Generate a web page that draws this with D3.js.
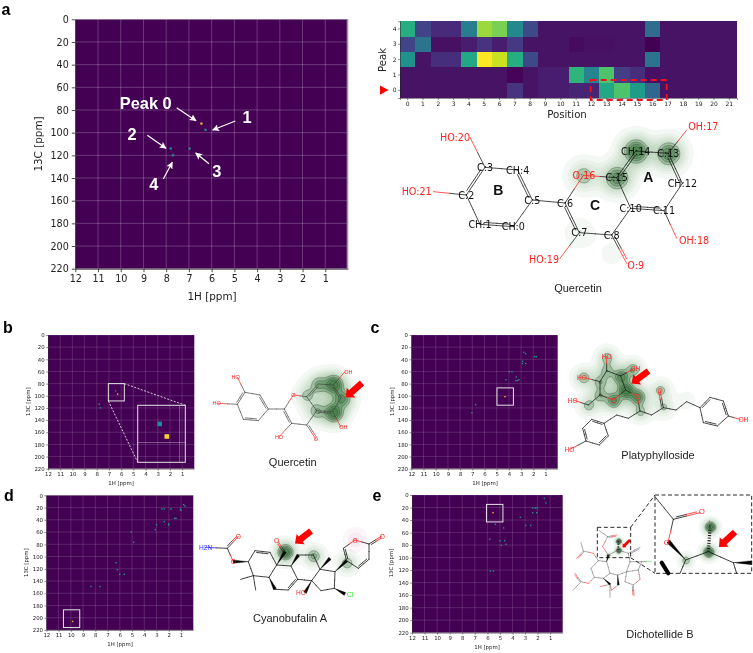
<!DOCTYPE html>
<html>
<head>
<meta charset="utf-8">
<script src="https://cdn.jsdelivr.net/npm/d3@7"></script>
<style>
html, body { margin: 0; padding: 0; background: #fff; }
svg { display: block; filter: blur(0.3px); }
</style>
</head>
<body>
<svg id="fig" width="753" height="653"></svg>
<script>
"use strict";

// Tick labels
var ppmTicks = [12, 11, 10, 9, 8, 7, 6, 5, 4, 3, 2, 1];
var carbonTicks = d3.range(0, 221, 20);

// Peaks: [1H ppm, 13C ppm, intensity]
var peaksA = [[6.45, 92, 1], [6.27, 97.5, 0.5], [7.8, 114, 0.5], [6.97, 114, 0.5], [7.7, 120, 0.5]];
var peaksB = [[6.45, 92, 0.5], [6.29, 97.4, 1], [7.8, 114, 0.5], [7.7, 120, 0.5]];
var peaksC = [[2.79, 28.5, 0.5], [2.63, 30.7, 0.5], [2.87, 43.3, 0.5], [2.63, 47, 0.5], [2.9, 47, 0.5],
    [1.89, 35.6, 0.5], [1.75, 35.6, 0.5], [3.97, 60.3, 0.5], [3.75, 60.3, 0.5], [3.39, 69, 0.5],
    [4.24, 73.5, 0.5], [3.42, 75, 0.5], [3.31, 75, 0.5], [3.18, 73.5, 0.5], [4.32, 101.5, 1],
    [6.73, 114.6, 0.5], [7.03, 127.8, 0.5]];
var peaksD = [[0.79, 15.3, 0.5], [0.68, 17.4, 0.5], [1.06, 22.9, 0.5], [0.98, 24.5, 0.5], [2.56, 22.3, 0.5],
    [2.37, 22.3, 0.5], [1.82, 22.3, 0.5], [1.52, 37.6, 0.5], [1.41, 37.6, 0.5], [2.37, 43, 0.5],
    [2.01, 46.8, 0.5], [2.01, 48.5, 0.5], [3, 48, 0.5], [3.1, 56, 0.5], [5.06, 60, 0.5], [4.87, 76.8, 0.5],
    [6.29, 110, 0.5], [6.2, 121.5, 0.5], [6.01, 129, 0.5], [5.63, 129, 0.5], [8.35, 149, 0.5],
    [7.62, 149, 0.5], [9.85, 206, 1]];
var peaksE = [[1.46, 5.3, 0.5], [1.33, 12.8, 0.5], [2.39, 20.8, 0.5], [2.18, 20.8, 0.5], [2.05, 20.8, 0.5],
    [2.39, 28.2, 0.5], [2.07, 28.2, 0.5], [5.55, 28.2, 1], [3.37, 35.7, 0.5], [5.36, 46.9, 0.5],
    [4.7, 52.7, 0.5], [2.95, 48.5, 0.5], [2.55, 48.5, 0.5], [5.81, 70.9, 0.5], [4.99, 73, 0.5],
    [4.62, 73, 0.5], [4.89, 80.4, 0.5], [4.51, 78.9, 0.5], [5.76, 121.5, 0.5], [5.52, 121.5, 0.5]];

// Attention heatmap, peak by position
var positions = d3.range(0, 22);
var peakRows = [4, 3, 2, 1, 0];
var attention4 = [0.62, 0.2, 0.12, 0.12, 0.42, 0.85, 0.8, 0.47, 0.22, 0.05, 0.05, 0.05, 0.05, 0.05, 0.05, 0.05, 0.35, 0.05, 0.05, 0.05, 0.05, 0.05];
var attention3 = [0.2, 0.38, 0.04, 0.04, 0.08, 0.15, 0.08, 0.17, 0.05, 0.05, 0.05, 0.03, 0.04, 0.04, 0.05, 0.05, 0, 0.05, 0.05, 0.05, 0.05, 0.05];
var attention2 = [0.5, 0.05, 0.13, 0.13, 0.6, 1, 0.92, 0.62, 0.22, 0.05, 0.05, 0.05, 0.05, 0.05, 0.05, 0.05, 0.38, 0.05, 0.05, 0.05, 0.05, 0.05];
var attention1 = [0.05, 0.05, 0.05, 0.05, 0.05, 0.05, 0.05, 0.01, 0.05, 0.08, 0.08, 0.65, 0.45, 0.72, 0.18, 0.13, 0.04, 0.05, 0.05, 0.05, 0.05, 0.05];
var attention0 = [0.05, 0.05, 0.05, 0.05, 0.05, 0.05, 0.05, 0.15, 0.05, 0.08, 0.08, 0.1, 0.1, 0.6, 0.72, 0.55, 0.33, 0.05, 0.05, 0.05, 0.05, 0.05];

// Quercetin with atom numbers (bonds: 1 single, 2 double, 3 wedge, 4 hashed, 5 thick bar)
var quercetinBonds = [[0, 1, 2], [1, 2, 1], [2, 3, 2], [3, 4, 1], [4, 5, 2], [5, 0, 1], [5, 6, 1], [6, 7, 2], [7, 8, 1],
    [8, 9, 2], [8, 10, 1], [10, 11, 2], [11, 12, 1], [12, 13, 2], [13, 14, 1], [14, 15, 2], [15, 10, 1], [15, 16, 1],
    [16, 6, 1], [13, 17, 1], [11, 18, 1], [7, 19, 1], [3, 20, 1], [2, 21, 1]];
var RED = "#f22";
var molA = [[430, 320], [330, 313], [289, 225], [345, 142], [443, 150], [487, 240], [585, 249], [628, 338], [725, 345],
    [770, 430, RED], [782, 265], [882, 272], [937, 190], [895, 100], [797, 93], [740, 173], [640, 166, RED],
    [950, 30, RED], [920, 355, RED], [570, 415, RED], [300, 52, RED], [190, 215, RED]];
var molALabels = [["CH:0", 430, 320], ["CH:1", 330, 313], ["C:2", 289, 225], ["C:3", 345, 142], ["CH:4", 443, 150], ["C:5", 487, 240],
    ["C:6", 585, 249], ["C:7", 628, 338], ["C:8", 725, 345], ["O:9", 797, 435, RED], ["C:10", 782, 265], ["C:11", 882, 272],
    ["CH:12", 937, 190], ["C:13", 895, 100], ["CH:14", 797, 93], ["C:15", 740, 173], ["O:16", 642, 166, RED], ["OH:17", 1000, 18, RED],
    ["OH:18", 972, 360, RED], ["HO:19", 522, 418, RED], ["HO:20", 255, 52, RED], ["HO:21", 140, 215, RED]];
var molAHot = [[797, 93, 1], [895, 100, 0.85], [740, 173, 0.8], [640, 166, 0.42], [628, 338, 0.14], [725, 400, 0.08]];
var ringLetters = [["A", 835, 170], ["B", 385, 210], ["C", 675, 255]];

// Quercetin, no numbers
var molB = [[160, 182], [115, 178], [97, 133], [120, 97], [165, 105], [190, 147], [238, 147], [260, 190], [305, 195],
    [333, 238, RED], [335, 152], [383, 155], [408, 113], [385, 75], [340, 72], [305, 110], [265, 105, RED],
    [420, 35, RED], [407, 200, RED], [222, 230, RED], [97, 52, RED], [38, 130, RED]];
var molBLabels = [["O", 333, 238, RED], ["O", 265, 105, RED], ["OH", 430, 35, RED], ["OH", 415, 202, RED], ["HO", 222, 230, RED], ["HO", 92, 52, RED], ["HO", 35, 130, RED]];
var molBHot = [[385, 72, 1], [385, 157, 1], [410, 115, 0.7], [340, 72, 0.5], [335, 152, 0.45], [305, 105, 0.35]];

// Platyphylloside
var molC = [[140, 92], [182, 108], [197, 150], [160, 180, RED], [120, 165], [120, 125], [140, 50, RED], [218, 88, RED],
    [70, 112, RED], [85, 195], [40, 180, RED], [232, 170, RED], [240, 213], [205, 235], [170, 225], [132, 250], [95, 238],
    [68, 265], [78, 303], [118, 315], [145, 288], [30, 328, RED], [275, 225], [310, 203], [300, 150, RED], [348, 210],
    [380, 185], [420, 203], [450, 172], [490, 183], [505, 228], [472, 258], [430, 248], [540, 238, RED]];
var molCBonds = [[0, 1, 1], [1, 2, 1], [2, 3, 1], [3, 4, 1], [4, 5, 1], [5, 0, 1], [0, 6, 1], [1, 7, 1], [5, 8, 1], [4, 9, 1], [9, 10, 1],
    [2, 11, 1], [11, 12, 1], [12, 13, 1], [13, 14, 1], [14, 15, 1], [15, 16, 2], [16, 17, 1], [17, 18, 2], [18, 19, 1], [19, 20, 2],
    [20, 15, 1], [18, 21, 1], [12, 22, 1], [22, 23, 1], [23, 24, 2], [23, 25, 1], [25, 26, 1], [26, 27, 1], [27, 28, 2], [28, 29, 1],
    [29, 30, 2], [30, 31, 1], [31, 32, 2], [32, 27, 1], [30, 33, 1]];
var molCLabels = [["HO", 140, 50, RED], ["OH", 226, 86, RED], ["HO", 66, 112, RED], ["HO", 38, 180, RED], ["O", 160, 180, RED],
    ["O", 232, 170, RED], ["O", 300, 150, RED], ["HO", 28, 328, RED], ["OH", 550, 238, RED]];
var molCHot = [[197, 150, 1], [182, 110, 0.75], [232, 170, 0.75], [160, 180, 0.7], [120, 165, 0.42], [140, 92, 0.4], [120, 125, 0.42],
    [70, 112, 0.42], [140, 52, 0.38], [218, 88, 0.45], [85, 195, 0.38], [240, 213, 0.35], [300, 150, 0.36], [310, 200, 0.3], [380, 180, 0.1]];

// Cyanobufalin A
var BLUE = "#33f";
var GREEN = "#3e3";
var molD = [[30, 82, BLUE], [97, 85], [130, 50, RED], [115, 125, RED], [160, 125], [180, 92], [225, 97], [245, 135], [222, 172], [175, 167],
    [137, 178], [182, 210], [270, 95], [250, 66, RED], [288, 138], [308, 178], [280, 210], [240, 208], [310, 105], [355, 105], [375, 148],
    [350, 182], [420, 155], [418, 205], [378, 212], [405, 115], [330, 218, RED], [455, 122], [450, 222, GREEN], [445, 85], [480, 60, RED],
    [522, 72], [522, 118], [490, 145], [560, 48, RED]];
var molDBonds = [[0, 1, 1], [1, 2, 2], [1, 3, 1], [4, 3, 3], [4, 5, 1], [5, 6, 2], [6, 7, 1], [7, 8, 1], [8, 9, 1], [9, 4, 1], [9, 10, 1], [9, 11, 1],
    [7, 12, 3], [12, 13, 2], [7, 14, 1], [14, 15, 1], [15, 16, 2], [16, 17, 1], [8, 17, 3], [14, 18, 3], [18, 19, 1], [19, 20, 1], [20, 21, 1],
    [21, 15, 1], [20, 22, 1], [22, 23, 1], [23, 24, 1], [24, 21, 1], [20, 25, 3], [21, 26, 3], [22, 27, 3], [23, 28, 3], [27, 29, 2], [29, 30, 1],
    [30, 31, 1], [31, 32, 1], [32, 33, 2], [33, 27, 1], [31, 34, 2]];
var molDLabels = [["H2N", 32, 82, BLUE], ["O", 130, 50, RED], ["O", 115, 125, RED], ["O", 245, 60, RED], ["HO", 318, 218, RED], ["Cl", 465, 222, GREEN],
    ["O", 480, 60, RED], ["O", 562, 48, RED]];
var molDHot = [[270, 95, 1], [355, 107, 0.5], [455, 128, 0.42]];
var molDPink = [[480, 58, 0.22]];

// Dichotellide B, whole molecule and zoomed part
var molE = [[78, 235], [100, 212], [125, 215], [135, 250], [115, 265], [88, 262], [85, 190, RED], [55, 183], [48, 158], [35, 205, RED],
    [70, 280, RED], [48, 275], [30, 250, RED], [25, 300], [130, 195], [113, 170, RED], [128, 140], [155, 135, RED], [103, 122],
    [160, 180], [160, 152], [190, 190], [195, 215], [225, 172], [230, 215], [260, 215, GREEN], [220, 240], [225, 268, RED], [205, 285],
    [207, 318, RED], [180, 275], [185, 245], [158, 255], [160, 285], [140, 300, RED], [135, 283], [135, 322], [105, 290, RED]];
var molEBonds = [[0, 1, 1], [1, 2, 1], [2, 3, 1], [3, 4, 1], [4, 5, 1], [5, 0, 1], [1, 6, 1], [6, 7, 1], [7, 8, 1], [7, 9, 2], [5, 10, 1], [10, 11, 1],
    [11, 12, 2], [11, 13, 1], [2, 14, 3], [14, 15, 1], [15, 16, 1], [16, 17, 2], [16, 18, 1], [14, 19, 1], [19, 20, 4], [19, 21, 1], [21, 22, 1],
    [21, 23, 2], [22, 24, 1], [24, 25, 1], [24, 26, 1], [26, 27, 1], [27, 28, 1], [28, 29, 2], [28, 30, 1], [30, 31, 1], [31, 26, 1], [31, 32, 1],
    [32, 3, 1], [31, 22, 1], [32, 33, 3], [33, 34, 1], [34, 35, 1], [35, 36, 1], [35, 37, 1], [4, 35, 3]];
var molEHot = [[160, 180, 1], [160, 153, 1], [130, 195, 0.35]];
var insetAtoms = [[270, 20], [325, 88], [405, 68, RED], [310, 154, RED], [362, 210], [430, 185], [435, 115], [433, 92, "#d4d"], [505, 218],
    [515, 250], [560, 218], [345, 250], [290, 218], [310, 250]];
var insetBonds = [[0, 1, 1], [1, 2, 2], [1, 3, 1], [4, 3, 3], [4, 5, 1], [5, 6, 4], [6, 7, 1], [5, 8, 1], [8, 9, 1], [8, 10, 3], [4, 11, 1], [12, 13, 5]];
var insetLabels = [["O", 411, 65, RED], ["O", 305, 158, RED]];
var insetHot = [[430, 185, 1], [435, 110, 1], [362, 210, 0.42]];

var svg = d3.select("#fig");
var font = "'DejaVu Sans', sans-serif";
var sans = "'Liberation Sans', Arial, sans-serif";

function peakColor(v) {
    return v > 0.9 ? "#f7b733" : d3.interpolateViridis(v);
}

function addText(g, str, x, y, size, opts) {
    opts = opts || {};
    var t = g.append("text")
        .attr("x", x)
        .attr("y", y)
        .attr("font-family", opts.family || sans)
        .attr("font-size", size)
        .attr("font-weight", opts.weight || "normal")
        .attr("fill", opts.fill || "#222")
        .attr("text-anchor", opts.anchor || "middle")
        .attr("dominant-baseline", opts.baseline || "central")
        .text(str);
    if (opts.rotate) {
        t.attr("transform", "rotate(" + opts.rotate + " " + x + " " + y + ")");
    }
    return t;
}

// One 1H / 13C spectrum panel with its grid, axes and peaks
function spectrum(box, peaks, o) {
    var g = svg.append("g");
    var x = d3.scaleLinear().domain([12, 0]).range([box.x0, box.x1]);
    var y = d3.scaleLinear().domain([0, 220]).range([box.y0, box.y1]);

    g.append("rect")
        .attr("x", box.x0)
        .attr("y", box.y0)
        .attr("width", box.x1 - box.x0)
        .attr("height", box.y1 - box.y0)
        .attr("fill", "#440154");

    g.selectAll(".gx").data(ppmTicks).enter().append("line")
        .attr("x1", function(d) {return x(d);})
        .attr("x2", function(d) {return x(d);})
        .attr("y1", box.y0)
        .attr("y2", box.y1)
        .attr("stroke", "#fff")
        .attr("stroke-opacity", 0.28)
        .attr("stroke-width", o.grid);
    g.selectAll(".gy").data(carbonTicks).enter().append("line")
        .attr("x1", box.x0)
        .attr("x2", box.x1)
        .attr("y1", function(d) {return y(d);})
        .attr("y2", function(d) {return y(d);})
        .attr("stroke", "#fff")
        .attr("stroke-opacity", 0.28)
        .attr("stroke-width", o.grid);

    g.selectAll(".peak").data(peaks).enter().append("rect")
        .attr("x", function(d) {return x(d[0]) - o.peak / 2;})
        .attr("y", function(d) {return y(d[1]) - o.peak / 2;})
        .attr("width", o.peak)
        .attr("height", o.peak)
        .attr("fill", function(d) {return peakColor(d[2]);});

    var xAxis = d3.axisBottom(x).tickValues(ppmTicks).tickSize(o.tick).tickPadding(o.pad).tickSizeOuter(0);
    var yAxis = d3.axisLeft(y).tickValues(carbonTicks).tickSize(o.tick).tickPadding(o.pad).tickSizeOuter(0);
    [g.append("g").attr("transform", "translate(0," + box.y1 + ")").call(xAxis),
     g.append("g").attr("transform", "translate(" + box.x0 + ",0)").call(yAxis)].forEach(function(a) {
        a.attr("font-family", font).attr("font-size", o.font);
        a.selectAll("text").attr("fill", "#222");
        a.selectAll("line").attr("stroke", "#222").attr("stroke-width", o.grid);
        a.select(".domain").attr("stroke", "#222").attr("stroke-width", o.grid);
    });

    addText(g, "1H [ppm]", o.xl[0], o.xl[1], o.label, {family: font});
    addText(g, "13C [ppm]", o.yl[0], o.yl[1], o.label, {family: font, rotate: -90});
    return {g: g, x: x, y: y};
}

function selectBox(p, h0, h1, c0, c1) {
    p.g.append("rect")
        .attr("x", p.x(h0))
        .attr("y", p.y(c0))
        .attr("width", p.x(h1) - p.x(h0))
        .attr("height", p.y(c1) - p.y(c0))
        .attr("fill", "none")
        .attr("stroke", "#e4e4e4")
        .attr("stroke-width", 1);
}

// Similarity map: green gaussian glow and contour lines around the hot atoms
function hotMap(m, hot, sigma, color, noLines) {
    var pts = hot.map(function(h) {return [m.ox + h[0] * m.k, m.oy + h[1] * m.k, h[2]];});
    var pad = sigma * 6;
    var x0 = Math.floor(d3.min(pts, function(p) {return p[0];}) - pad);
    var y0 = Math.floor(d3.min(pts, function(p) {return p[1];}) - pad);
    var nx = Math.ceil(d3.max(pts, function(p) {return p[0];}) + pad) - x0;
    var ny = Math.ceil(d3.max(pts, function(p) {return p[1];}) + pad) - y0;

    function field(s, scale) {
        var values = new Array(nx * ny);
        for (var j = 0; j < ny; j++) {
            for (var i = 0; i < nx; i++) {
                var v = 0;
                pts.forEach(function(p) {
                    var dx = i + x0 - p[0], dy = j + y0 - p[1];
                    v += p[2] * scale * Math.exp(-(dx * dx + dy * dy) / (2 * s * s));
                });
                values[i + j * nx] = v;
            }
        }
        return values;
    }

    var g = svg.append("g").attr("transform", "translate(" + x0 + "," + y0 + ")");
    var path = d3.geoPath();

    var glow = d3.contours().size([nx, ny]).thresholds(d3.range(0.03, 0.9, 0.05))(field(sigma * 1.5, 0.6));
    g.selectAll(".glow").data(glow).enter().append("path")
        .attr("d", path)
        .attr("fill", color)
        .attr("fill-opacity", 0.055);

    if (noLines) return;
    var core = d3.contours().size([nx, ny]).thresholds([0.25, 0.42, 0.6, 0.8])(field(sigma, 1));
    g.selectAll(".core").data(core).enter().append("path")
        .attr("d", path)
        .attr("fill", "#1b5e20")
        .attr("fill-opacity", 0.2)
        .attr("stroke", "#1c2a1c")
        .attr("stroke-opacity", 0.55)
        .attr("stroke-width", 0.6);
}

// Skeleton lines, every bond half coloured by the atom at each end
function skeleton(m, atoms, bonds) {
    var g = svg.append("g");
    var line = function(a, b, color, w) {
        g.append("line")
            .attr("x1", a[0]).attr("y1", a[1])
            .attr("x2", b[0]).attr("y2", b[1])
            .attr("stroke", color)
            .attr("stroke-width", w)
            .attr("stroke-linecap", "round");
    };
    var pos = function(i) {return [m.ox + atoms[i][0] * m.k, m.oy + atoms[i][1] * m.k];};
    var col = function(i) {return atoms[i][2] || m.color;};
    var halves = function(a, b, ca, cb) {
        var mid = [(a[0] + b[0]) / 2, (a[1] + b[1]) / 2];
        line(a, mid, ca, m.width);
        line(mid, b, cb, m.width);
    };

    bonds.forEach(function(bd) {
        var a = pos(bd[0]), b = pos(bd[1]);
        var dx = b[0] - a[0], dy = b[1] - a[1], len = Math.sqrt(dx * dx + dy * dy);
        var nx = -dy / len, ny = dx / len;

        if (bd[2] === 3) {
            var w = m.wedge;
            g.append("polygon")
                .attr("points", [a, [b[0] + nx * w / 2, b[1] + ny * w / 2], [b[0] - nx * w / 2, b[1] - ny * w / 2]].join(" "))
                .attr("fill", "#000")
                .attr("stroke", "#000")
                .attr("stroke-width", 0.3);
        } else if (bd[2] === 5) {
            line(a, b, "#000", m.wedge);
        } else if (bd[2] === 4) {
            g.append("line")
                .attr("x1", a[0]).attr("y1", a[1])
                .attr("x2", b[0]).attr("y2", b[1])
                .attr("stroke", "#222")
                .attr("stroke-width", m.wedge * 0.8)
                .attr("stroke-dasharray", "1.1,1.5");
        } else {
            halves(a, b, col(bd[0]), col(bd[1]));
        }

        if (bd[2] === 2) {
            // Second line goes to the side where the neighbouring atoms are
            var side = 0;
            bonds.forEach(function(other) {
                [[other[0], other[1]], [other[1], other[0]]].forEach(function(pair) {
                    if ((pair[0] === bd[0] || pair[0] === bd[1]) && pair[1] !== bd[0] && pair[1] !== bd[1]) {
                        var c = pos(pair[1]);
                        side += (c[0] - a[0]) * nx + (c[1] - a[1]) * ny;
                    }
                });
            });
            var s = (side >= 0 ? 1 : -1) * m.gap;
            var f = 0.12;
            halves([a[0] + nx * s + dx * f, a[1] + ny * s + dy * f],
                   [b[0] + nx * s - dx * f, b[1] + ny * s - dy * f], col(bd[0]), col(bd[1]));
        }
    });
}

function atomLabels(m, labels) {
    var g = svg.append("g");
    labels.forEach(function(l) {
        addText(g, l[0], m.ox + l[1] * m.k, m.oy + l[2] * m.k, m.font, {family: m.family || sans, fill: l[3] || m.color});
    });
}

function redArrow(tipX, tipY, tailX, tailY, w) {
    var dx = tipX - tailX, dy = tipY - tailY, len = Math.sqrt(dx * dx + dy * dy);
    var ux = dx / len, uy = dy / len, nx = -uy, ny = ux;
    var head = w * 1.1;
    var bx = tipX - ux * head, by = tipY - uy * head;
    var pts = [[tipX, tipY], [bx + nx * w, by + ny * w], [bx + nx * w / 2, by + ny * w / 2], [tailX + nx * w / 2, tailY + ny * w / 2],
        [tailX - nx * w / 2, tailY - ny * w / 2], [bx - nx * w / 2, by - ny * w / 2], [bx - nx * w, by - ny * w]];
    svg.append("polygon").attr("points", pts.join(" ")).attr("fill", "#f00");
}

function whiteArrow(x1, y1, x2, y2) {
    svg.append("line")
        .attr("x1", x1).attr("y1", y1)
        .attr("x2", x2).attr("y2", y2)
        .attr("stroke", "#fff")
        .attr("stroke-width", 1.2)
        .attr("marker-end", "url(#whiteHead)");
}

svg.append("defs").append("marker")
    .attr("id", "whiteHead")
    .attr("viewBox", "0 0 10 10")
    .attr("refX", 9)
    .attr("refY", 5)
    .attr("markerWidth", 7)
    .attr("markerHeight", 7)
    .attr("markerUnits", "userSpaceOnUse")
    .attr("orient", "auto")
    .append("path")
    .attr("d", "M0,0L10,5L0,10L2,5Z")
    .attr("fill", "#fff");

// Panel letters
[["a", 6, 14.6], ["b", 8, 333], ["c", 375, 333], ["d", 9, 501], ["e", 377, 501]].forEach(function(p) {
    addText(svg, p[0], p[1], p[2], 16, {weight: "bold", fill: "#000", baseline: "auto"});
});

// Panel a, spectrum
var big = {font: 9.6, label: 10.4, tick: 3.5, pad: 3, grid: 0.8, peak: 2.2};
var pA = spectrum({x0: 75.3, x1: 348, y0: 19.3, y1: 268.7}, peaksA,
    Object.assign({xl: [212, 296], yl: [37.5, 144]}, big));
pA.g.append("rect").attr("x", 346.7).attr("y", 19.3).attr("width", 1.6).attr("height", 249.4).attr("fill", "#999");

addText(svg, "Peak 0", 145.7, 103, 16.4, {weight: "bold", fill: "#fff"});
addText(svg, "1", 247, 117, 16.4, {weight: "bold", fill: "#fff"});
addText(svg, "2", 132, 134, 16.4, {weight: "bold", fill: "#fff"});
addText(svg, "3", 216.7, 171, 16.4, {weight: "bold", fill: "#fff"});
addText(svg, "4", 153.7, 184, 16.4, {weight: "bold", fill: "#fff"});
whiteArrow(176.7, 107.7, 196, 120.7);
whiteArrow(235.3, 121, 212.7, 130);
whiteArrow(147.3, 135.3, 166, 148.3);
whiteArrow(209, 163.7, 195.7, 153);
whiteArrow(163.3, 179, 172.3, 162.3);

// Panel a, heatmap
(function() {
    var rows = [attention0, attention1, attention2, attention3, attention4];
    var hx = d3.scaleBand().domain(positions).range([400, 737]);
    var hy = d3.scaleBand().domain(peakRows).range([21.3, 98]);
    var g = svg.append("g");

    peakRows.forEach(function(r) {
        g.selectAll(".c" + r).data(rows[r]).enter().append("rect")
            .attr("x", function(d, i) {return hx(i);})
            .attr("y", hy(r))
            .attr("width", hx.bandwidth() + 0.4)
            .attr("height", hy.bandwidth() + 0.4)
            .attr("shape-rendering", "crispEdges")
            .attr("fill", function(d) {return d3.interpolateViridis(d);});
    });

    var ax = g.append("g").attr("transform", "translate(0,98)").call(d3.axisBottom(hx).tickSize(2).tickPadding(1.5));
    var ay = g.append("g").attr("transform", "translate(400,0)").call(d3.axisLeft(hy).tickSize(2).tickPadding(1.5));
    [ax, ay].forEach(function(a) {
        a.attr("font-family", font).attr("font-size", 6);
        a.selectAll("text").attr("fill", "#222");
        a.selectAll("line").attr("stroke", "#222").attr("stroke-width", 0.5);
        a.select(".domain").attr("stroke", "#222").attr("stroke-width", 0.5);
    });
    addText(g, "Position", 567, 114, 10.2, {family: font});
    addText(g, "Peak", 382.7, 60, 10.2, {family: font, rotate: -90});

    g.append("rect")
        .attr("x", 590.7).attr("y", 80)
        .attr("width", 76).attr("height", 20)
        .attr("fill", "none")
        .attr("stroke", "#f01020")
        .attr("stroke-width", 1.8)
        .attr("stroke-dasharray", "6,4");
    g.append("polygon")
        .attr("points", [[380, 85.5], [380, 94.7], [388.5, 90]].join(" "))
        .attr("fill", "#f00");
})();

// Panel a, numbered molecule
var mA = {ox: 370, oy: 120, k: 1 / 3, color: "#111", width: 0.75, gap: 2.2, wedge: 3, font: 9.6, family: font};
hotMap(mA, molAHot, 7, "#2e7d32");
skeleton(mA, molA, quercetinBonds);
atomLabels(mA, molALabels);
ringLetters.forEach(function(l) {
    addText(svg, l[0], 370 + l[1] / 3, 120 + l[2] / 3, 14, {weight: "bold", fill: "#111"});
});
addText(svg, "Quercetin", 578, 288, 11);

// Panel b
var small = {font: 5.4, label: 5.4, tick: 1.8, pad: 1.5, grid: 0.5, peak: 1.4};
var pB = spectrum({x0: 48, x1: 194.3, y0: 335, y1: 468.7}, peaksB,
    Object.assign({xl: [121, 483], yl: [27.7, 401.7]}, small));
selectBox(pB, 7.05, 5.74, 80, 108.5);

(function() {
    var left = 137.7, right = 185.3, top = 405.3, bottom = 462.3;
    var ix = d3.scaleLinear().domain([6.95, 5.87]).range([left, right]);
    var iy = d3.scaleLinear().domain([84, 108.5]).range([top, bottom]);
    var g = pB.g;

    g.append("line").attr("x1", left).attr("x2", right).attr("y1", iy(100)).attr("y2", iy(100))
        .attr("stroke", "#fff").attr("stroke-opacity", 0.4).attr("stroke-width", 0.8);
    g.append("line").attr("x1", ix(6)).attr("x2", ix(6)).attr("y1", top).attr("y2", bottom)
        .attr("stroke", "#fff").attr("stroke-opacity", 0.4).attr("stroke-width", 0.8);

    var pair = peaksB.slice(0, 2);
    g.selectAll(".zoomed").data(pair).enter().append("rect")
        .attr("x", function(d) {return ix(d[0]) - 2.3;})
        .attr("y", function(d) {return iy(d[1]) - 2.3;})
        .attr("width", 4.6)
        .attr("height", 4.6)
        .attr("fill", function(d) {return d[2] > 0.9 ? "#f5d328" : "#1f8f96";});

    g.append("rect")
        .attr("x", left).attr("y", top)
        .attr("width", right - left).attr("height", bottom - top)
        .attr("fill", "none")
        .attr("stroke", "#e4e4e4")
        .attr("stroke-width", 1);

    var ends = [[pB.x(5.74), pB.y(80), right, top], [pB.x(7.05), pB.y(108.5), left, bottom]];
    g.selectAll(".lead").data(ends).enter().append("line")
        .attr("x1", function(d) {return d[0];})
        .attr("y1", function(d) {return d[1];})
        .attr("x2", function(d) {return d[2];})
        .attr("y2", function(d) {return d[3];})
        .attr("stroke", "#e4e4e4")
        .attr("stroke-width", 0.9)
        .attr("stroke-dasharray", "2,1.5");
})();

var mB = {ox: 205, oy: 360, k: 1 / 3, color: "#444", width: 0.7, gap: 1.6, wedge: 3, font: 5.5};
hotMap(mB, molBHot, 5.5, "#2e7d32");
skeleton(mB, molB, quercetinBonds);
atomLabels(mB, molBLabels);
redArrow(345.7, 397.3, 362, 383, 6.5);
addText(svg, "Quercetin", 292.7, 462.3, 11);

// Panel c
var pC = spectrum({x0: 411.3, x1: 557.7, y0: 335, y1: 468.7}, peaksC,
    Object.assign({xl: [485, 483], yl: [391.7, 401.7]}, small));
selectBox(pC, 4.98, 3.63, 87, 115.5);

var mC = {ox: 560, oy: 340, k: 1 / 3, color: "#222", width: 0.8, gap: 1.6, wedge: 3, font: 6.6};
hotMap(mC, molCHot, 4.8, "#2e7d32");
skeleton(mC, molC, molCBonds);
atomLabels(mC, molCLabels);
redArrow(631.5, 383.5, 648.5, 371, 6.5);
addText(svg, "Platyphylloside", 658, 455, 11);

// Panel d
var pD = spectrum({x0: 46.3, x1: 193.3, y0: 495.3, y1: 630}, peaksD,
    Object.assign({xl: [120, 644], yl: [26, 562.7]}, small));
selectBox(pD, 10.6, 9.27, 187, 216);

var mD = {ox: 195, oy: 520, k: 1 / 3, color: "#222", width: 0.85, gap: 1.6, wedge: 3.2, font: 6.6};
hotMap(mD, molDPink, 5, "#d0408a", true);
hotMap(mD, molDHot, 4.6, "#2e7d32");
skeleton(mD, molD, molDBonds);
atomLabels(mD, molDLabels);
redArrow(295, 543.5, 311, 531, 6.5);
addText(svg, "Cyanobufalin A", 290, 617.7, 11);

// Panel e
var pE = spectrum({x0: 412, x1: 562.7, y0: 495, y1: 632.7}, peaksE,
    Object.assign({xl: [487, 647], yl: [390.7, 563]}, small));
selectBox(pE, 6.07, 4.76, 15, 43);

var mE = {ox: 565, oy: 490, k: 1 / 3, color: "#666", width: 0.55, gap: 1.1, wedge: 2, font: 4};
hotMap(mE, molEHot, 1.6, "#2e7d32");
skeleton(mE, molE, molEBonds);
redArrow(622.5, 547.5, 630, 540, 2.8);

(function() {
    var k = 1 / 3;
    var dash = "4,2.5";
    var g = svg.append("g").attr("fill", "none").attr("stroke", "#111").attr("stroke-width", 0.9).attr("stroke-dasharray", dash);
    g.append("rect").attr("x", 565 + 97 * k).attr("y", 490 + 112 * k).attr("width", 100 * k).attr("height", 91 * k);
    g.append("line").attr("x1", 565 + 197 * k).attr("y1", 490 + 112 * k).attr("x2", 565 + 270 * k).attr("y2", 490 + 15 * k);
    g.append("line").attr("x1", 565 + 197 * k).attr("y1", 490 + 203 * k).attr("x2", 565 + 270 * k).attr("y2", 490 + 250 * k);

    var mI = {ox: 565, oy: 490, k: k, color: "#111", width: 0.8, gap: 1.6, wedge: 4, font: 7.5};
    hotMap(mI, insetHot, 3.2, "#2e7d32");
    skeleton(mI, insetAtoms, insetBonds);
    atomLabels(mI, insetLabels);

    var g2 = svg.append("g").attr("fill", "none").attr("stroke", "#111").attr("stroke-width", 0.9).attr("stroke-dasharray", dash);
    g2.append("rect").attr("x", 565 + 270 * k).attr("y", 490 + 15 * k).attr("width", 290 * k).attr("height", 235 * k);
    redArrow(719, 547, 735, 532, 6.5);
})();
addText(svg, "Dichotellide B", 660, 634, 11);
</script>
</body>
</html>
